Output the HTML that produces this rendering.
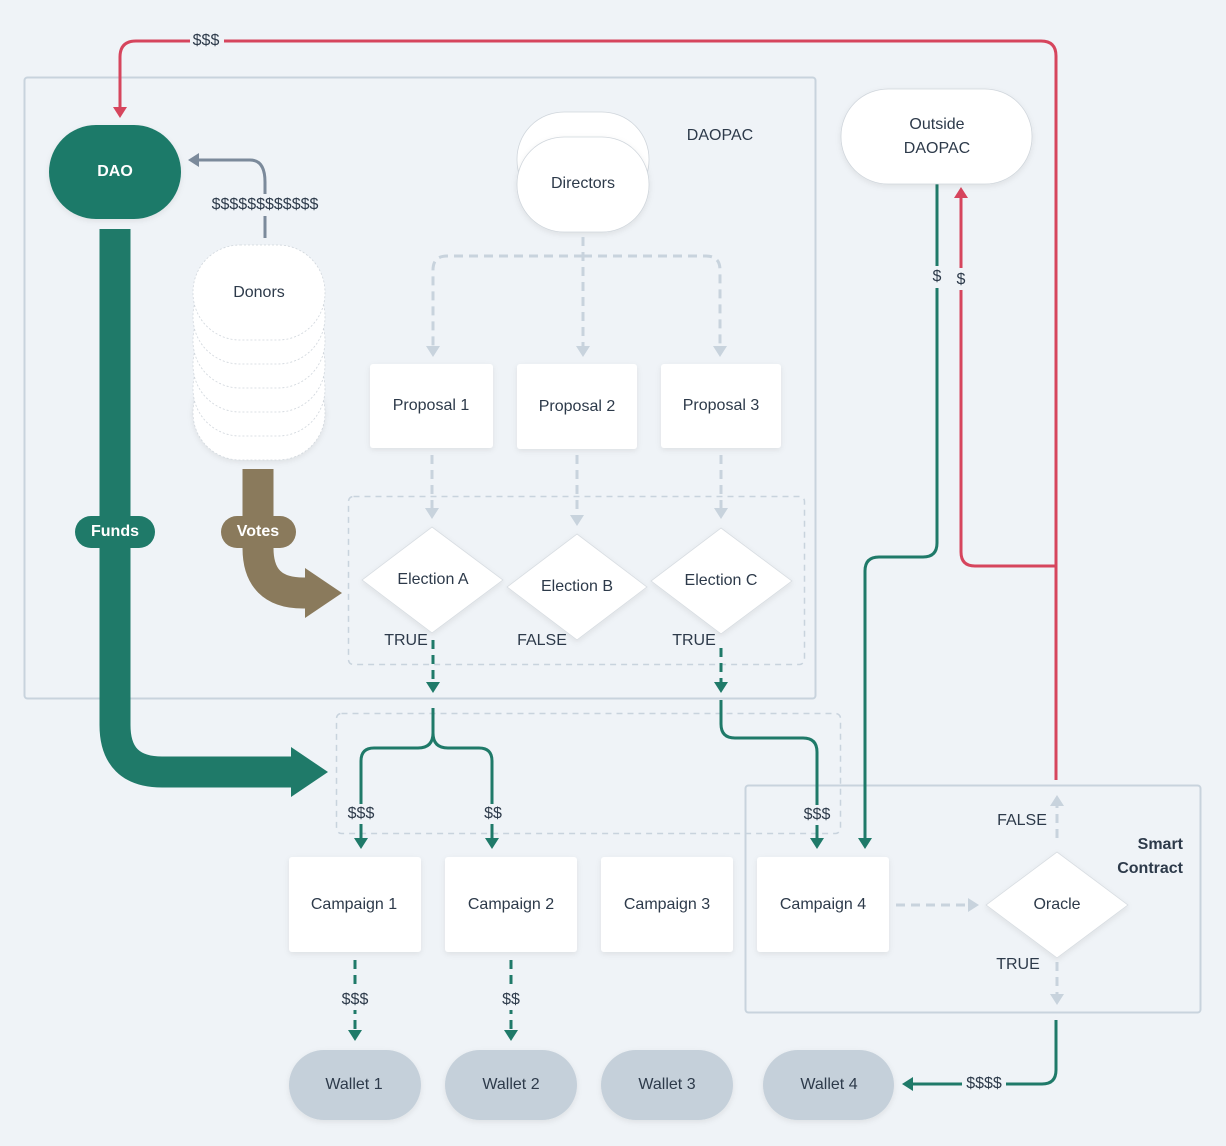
<!DOCTYPE html>
<html><head><meta charset="utf-8"><style>
html,body{margin:0;padding:0;background:#eff3f7;}
svg{display:block;font-family:"Liberation Sans",sans-serif;}
text{fill:#2d3a4a;font-size:16px;text-anchor:middle;dominant-baseline:middle;}
</style></head><body>
<svg width="1226" height="1146" viewBox="0 0 1226 1146" xmlns="http://www.w3.org/2000/svg">
<defs>
<filter id="sh" x="-20%" y="-20%" width="140%" height="140%"><feDropShadow dx="0" dy="2" stdDeviation="3" flood-color="#000" flood-opacity="0.08"/></filter>
</defs>
<rect width="1226" height="1146" fill="#eff3f7"/>
<!-- containers -->
<rect x="24.5" y="77.5" width="791" height="621" rx="3" fill="none" stroke="#c8d3dd" stroke-width="2"/>
<rect x="348.5" y="496.5" width="456" height="168" rx="5" fill="none" stroke="#c8d3dd" stroke-width="1.5" stroke-dasharray="6,5"/>
<rect x="336.5" y="713.5" width="504" height="120" rx="5" fill="none" stroke="#c8d3dd" stroke-width="1.5" stroke-dasharray="6,5"/>
<rect x="745.5" y="785.5" width="455" height="227" rx="3" fill="none" stroke="#c8d3dd" stroke-width="2"/>
<text x="720" y="136">DAOPAC</text>
<text x="1183" y="845" style="text-anchor:end;font-weight:bold">Smart</text>
<text x="1183" y="869" style="text-anchor:end;font-weight:bold">Contract</text>

<!-- red lines -->
<path d="M1056 780 V56 Q1056 41 1041 41 H136 Q120 41 120 57 V108" fill="none" stroke="#d6455d" stroke-width="3"/>
<polygon points="113,107 127,107 120,118" fill="#d6455d"/>
<rect x="190" y="31" width="34" height="20" fill="#eff3f7"/>
<text x="206" y="41">$$$</text>
<path d="M1056 566 H975 Q961 566 961 552 V198" fill="none" stroke="#d6455d" stroke-width="3"/>
<polygon points="954,198 968,198 961,187" fill="#d6455d"/>
<rect x="952" y="268" width="18" height="22" fill="#eff3f7"/>
<text x="961" y="280">$</text>

<!-- green outside -->
<path d="M937 184 V543 Q937 557 923 557 H879 Q865 557 865 571 V840" fill="none" stroke="#1f7a69" stroke-width="3"/>
<polygon points="858,838 872,838 865,849" fill="#1f7a69"/>
<rect x="928" y="266" width="18" height="22" fill="#eff3f7"/>
<text x="937" y="277">$</text>

<!-- gray donors arrow -->
<path d="M265 238 V182 Q265 160 250 160 H198" fill="none" stroke="#7b8a9b" stroke-width="3"/>
<polygon points="199,153 199,167 188,160" fill="#7b8a9b"/>
<rect x="205" y="194" width="120" height="22" fill="#eff3f7"/>
<text x="265" y="205">$$$$$$$$$$$$</text>

<!-- Funds thick -->
<path d="M115 229 V725 Q115 772 162 772 H295" fill="none" stroke="#1f7a69" stroke-width="31"/>
<polygon points="291,747 291,797 328,772" fill="#1f7a69"/>
<rect x="75" y="516" width="80" height="32" rx="16" fill="#1f7a69"/>
<text x="115" y="532" style="fill:#fff;font-weight:bold">Funds</text>
<!-- Votes -->
<path d="M258 469 V548 Q258 593 303 593 H310" fill="none" stroke="#8a7a5c" stroke-width="31"/>
<polygon points="305,568 305,618 342,593" fill="#8a7a5c"/>
<rect x="221" y="516" width="75" height="32" rx="16" fill="#8a7a5c"/>
<text x="258" y="532" style="fill:#fff;font-weight:bold">Votes</text>

<!-- DAO -->
<rect x="49" y="125" width="132" height="94" rx="47" fill="#1f7a69" filter="url(#sh)"/>
<text x="115" y="172" style="fill:#fff;font-weight:bold">DAO</text>

<!-- Donors stack -->
<g stroke="#d0d6dc" stroke-width="0.8" fill="#fff" stroke-dasharray="2,2">
<rect x="193" y="365" width="132" height="95" rx="47" filter="url(#sh)"/>
<rect x="193" y="341" width="132" height="95" rx="47"/>
<rect x="193" y="317" width="132" height="95" rx="47"/>
<rect x="193" y="293" width="132" height="95" rx="47"/>
<rect x="193" y="269" width="132" height="95" rx="47"/>
<rect x="193" y="245" width="132" height="95" rx="47"/>
</g>
<text x="259" y="293">Donors</text>

<!-- Directors -->
<rect x="517" y="112" width="132" height="95" rx="47" fill="#fff" stroke="#d0d6dc" stroke-width="0.8"/>
<rect x="517" y="137" width="132" height="95" rx="47" fill="#fff" stroke="#d0d6dc" stroke-width="0.8" filter="url(#sh)"/>
<text x="583" y="184">Directors</text>

<!-- Outside DAOPAC -->
<rect x="841" y="89" width="191" height="95" rx="47" fill="#fff" stroke="#d0d6dc" stroke-width="0.8" filter="url(#sh)"/>
<text x="937" y="125">Outside</text>
<text x="937" y="149">DAOPAC</text>

<!-- light dashed connectors -->
<g fill="none" stroke="#c8d3dd" stroke-width="3" stroke-dasharray="9,6">
<path d="M583 237 V346"/>
<path d="M583 256 H447 Q433 256 433 270 V346"/>
<path d="M583 256 H706 Q720 256 720 270 V346"/>
<path d="M432 455 V510"/><path d="M577 455 V516"/><path d="M721 455 V510"/>
<path d="M1057 838 V806"/><path d="M1057 962 V994"/>
<path d="M896 905 H968"/>
</g>
<g fill="#c8d3dd">
<polygon points="426,346 440,346 433,357"/><polygon points="576,346 590,346 583,357"/><polygon points="713,346 727,346 720,357"/>
<polygon points="425,508 439,508 432,519"/><polygon points="570,515 584,515 577,526"/><polygon points="714,508 728,508 721,519"/>
<polygon points="1050,806 1064,806 1057,795"/><polygon points="1050,994 1064,994 1057,1005"/>
<polygon points="968,898 968,912 979,905"/>
</g>

<!-- Proposals -->
<g fill="#fff" filter="url(#sh)">
<rect x="370" y="364" width="123" height="84" rx="3"/>
<rect x="517" y="364" width="120" height="85" rx="3"/>
<rect x="661" y="364" width="120" height="84" rx="3"/>
</g>
<text x="431" y="406">Proposal 1</text>
<text x="577" y="407">Proposal 2</text>
<text x="721" y="406">Proposal 3</text>

<!-- Elections -->
<g fill="#fff" stroke="#d8dde2" stroke-width="0.8" filter="url(#sh)">
<polygon points="432,527 503,580 432,633 362,580"/>
<polygon points="577,534 647,587 577,640 507,587"/>
<polygon points="721,528 792,581 721,634 651,581"/>
<polygon points="1057,852 1128,905 1057,958 986,905"/>
</g>
<text x="433" y="580">Election A</text>
<text x="577" y="587">Election B</text>
<text x="721" y="581">Election C</text>
<text x="1057" y="905">Oracle</text>
<text x="406" y="641">TRUE</text>
<text x="542" y="641">FALSE</text>
<text x="694" y="641">TRUE</text>
<text x="1022" y="821">FALSE</text>
<text x="1018" y="965">TRUE</text>

<!-- green dashed -->
<g fill="none" stroke="#1f7a69" stroke-width="3" stroke-dasharray="9,6">
<path d="M433 640 V681"/><path d="M721 648 V682"/>
<path d="M355 960 V1030"/><path d="M511 960 V1030"/>
</g>
<g fill="#1f7a69">
<polygon points="426,682 440,682 433,693"/><polygon points="714,682 728,682 721,693"/>
<polygon points="348,1030 362,1030 355,1041"/><polygon points="504,1030 518,1030 511,1041"/>
</g>
<rect x="338" y="990" width="34" height="20" fill="#eff3f7"/><text x="355" y="1000">$$$</text>
<rect x="498" y="990" width="26" height="20" fill="#eff3f7"/><text x="511" y="1000">$$</text>

<!-- green solid lines to campaigns -->
<g fill="none" stroke="#1f7a69" stroke-width="3">
<path d="M433 708 V733 Q433 748 418 748 H374 Q361 748 361 761 V840"/>
<path d="M433 733 Q433 748 448 748 H479 Q492 748 492 761 V840"/>
<path d="M721 700 V724 Q721 738 735 738 H803 Q817 738 817 752 V840"/>
<path d="M1056 1020 V1070 Q1056 1084 1042 1084 H912"/>
</g>
<g fill="#1f7a69">
<polygon points="354,838 368,838 361,849"/><polygon points="485,838 499,838 492,849"/><polygon points="810,838 824,838 817,849"/>
<polygon points="913,1077 913,1091 902,1084"/>
</g>
<rect x="344" y="804" width="34" height="20" fill="#eff3f7"/><text x="361" y="814">$$$</text>
<rect x="480" y="804" width="26" height="20" fill="#eff3f7"/><text x="493" y="814">$$</text>
<rect x="800" y="805" width="34" height="20" fill="#eff3f7"/><text x="817" y="815">$$$</text>
<rect x="962" y="1074" width="44" height="20" fill="#eff3f7"/><text x="984" y="1084">$$$$</text>

<!-- Campaigns -->
<g fill="#fff" filter="url(#sh)">
<rect x="289" y="857" width="132" height="95" rx="3"/>
<rect x="445" y="857" width="132" height="95" rx="3"/>
<rect x="601" y="857" width="132" height="95" rx="3"/>
<rect x="757" y="857" width="132" height="95" rx="3"/>
</g>
<text x="354" y="905">Campaign 1</text>
<text x="511" y="905">Campaign 2</text>
<text x="667" y="905">Campaign 3</text>
<text x="823" y="905">Campaign 4</text>

<!-- Wallets -->
<g fill="#c5d0da" filter="url(#sh)">
<rect x="289" y="1050" width="132" height="70" rx="35"/>
<rect x="445" y="1050" width="132" height="70" rx="35"/>
<rect x="601" y="1050" width="132" height="70" rx="35"/>
<rect x="763" y="1050" width="131" height="70" rx="35"/>
</g>
<text x="354" y="1085">Wallet 1</text>
<text x="511" y="1085">Wallet 2</text>
<text x="667" y="1085">Wallet 3</text>
<text x="829" y="1085">Wallet 4</text>
</svg>
</body></html>
